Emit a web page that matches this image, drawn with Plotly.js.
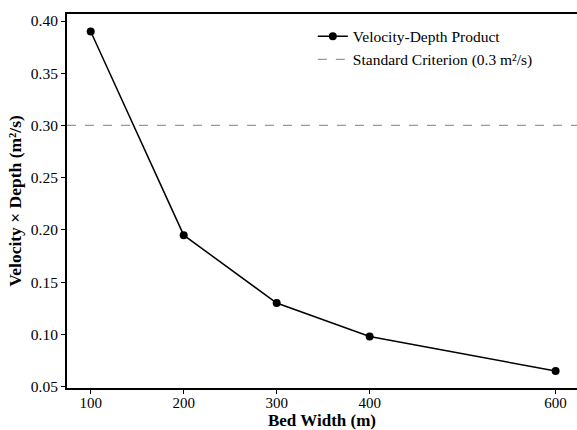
<!DOCTYPE html>
<html><head><meta charset="utf-8">
<script src="https://cdn.plot.ly/plotly-3.0.1.min.js"></script>
<style>body{margin:0;padding:0;}#chart{width:577px;height:430px;}</style>
</head><body><div id="chart"></div>
<script>
const bedWidth = [100, 200, 300, 400, 600];
const vdProduct = [0.39, 0.195, 0.13, 0.098, 0.065];
const criterionValue = 0.3;
const xTicks = [100, 200, 300, 400, 600];
const yTicks = [0.05, 0.10, 0.15, 0.20, 0.25, 0.30, 0.35, 0.40];
const xRange = [74.5, 623];
const yRange = [0.0487, 0.4067];

const font = 'Liberation Serif, Times New Roman, serif';
const traces = [
  {x: bedWidth, y: vdProduct, mode: 'lines+markers', name: 'Velocity-Depth Product',
   line: {color: '#000', width: 1.5}, marker: {color: '#000', size: 8}},
  {x: xRange, y: [criterionValue, criterionValue], mode: 'lines', name: 'Standard Criterion (0.3 m²/s)',
   line: {color: '#999', width: 1.2, dash: 'dash'}, hoverinfo: 'skip'}
];
const layout = {
  width: 577, height: 430,
  margin: {l: 67, r: 0, t: 14, b: 42},
  paper_bgcolor: '#fff', plot_bgcolor: '#fff',
  font: {family: font, size: 16, color: '#000'},
  showlegend: true,
  legend: {x: 0.482, y: 0.985, xanchor: 'left', yanchor: 'top', bgcolor: 'rgba(0,0,0,0)',
    font: {family: font, size: 15.5, color: '#000'}, tracegroupgap: 0},
  xaxis: {range: xRange, tickvals: xTicks, ticktext: xTicks.map(String), showgrid: false, zeroline: false,
    showline: true, linecolor: '#000', linewidth: 2, mirror: true, ticks: 'outside', ticklen: 4, tickcolor: '#000',
    tickfont: {family: font, size: 15}, ticklabelstandoff: -4,
    title: {text: '<b>Bed Width (m)</b>', font: {family: font, size: 17}, standoff: 6}},
  yaxis: {range: yRange, tickvals: yTicks, ticktext: yTicks.map(v => v.toFixed(2)), showgrid: false, zeroline: false,
    showline: true, linecolor: '#000', linewidth: 2, mirror: false, ticks: 'outside', ticklen: 4, tickcolor: '#000',
    tickfont: {family: font, size: 15.5},
    title: {text: '<b>Velocity × Depth (m²/s)</b>', font: {family: font, size: 17.5}, standoff: 5}}
};
Plotly.newPlot('chart', traces, layout, {displayModeBar: false, staticPlot: true});
</script></body></html>
